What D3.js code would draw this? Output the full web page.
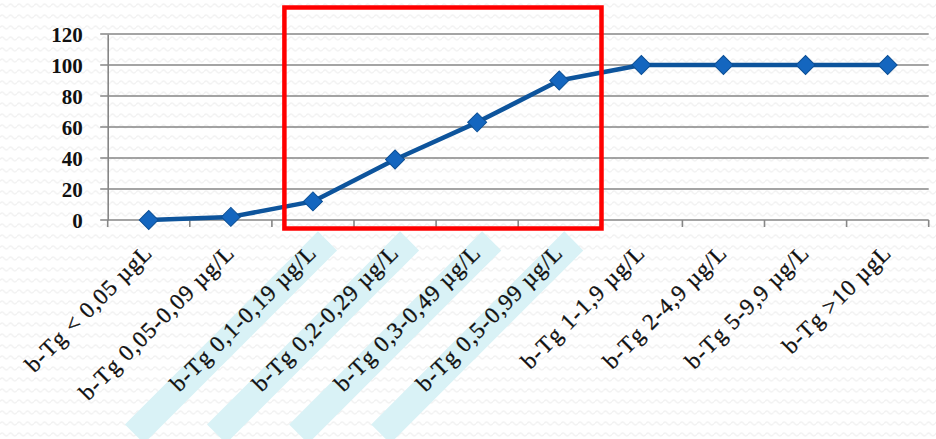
<!DOCTYPE html>
<html>
<head>
<meta charset="utf-8">
<script src="https://cdn.jsdelivr.net/npm/d3@7"></script>
<style>
  html, body { margin: 0; padding: 0; background: #ffffff; }
  svg { display: block; }
</style>
</head>
<body>
<div id="chart"></div>
<script>
// b-Tg concentration classes and the cumulative percentage reached in each
const categories = [
  "b-Tg < 0,05 µgL",
  "b-Tg 0,05-0,09 µg/L",
  "b-Tg 0,1-0,19 µg/L",
  "b-Tg 0,2-0,29 µg/L",
  "b-Tg 0,3-0,49 µg/L",
  "b-Tg 0,5-0,99 µg/L",
  "b-Tg 1-1,9 µg/L",
  "b-Tg 2-4,9 µg/L",
  "b-Tg 5-9,9 µg/L",
  "b-Tg >10 µgL"
];
const values = [0, 2, 12, 39, 63, 90, 100, 100, 100, 100];
const yTicks = [0, 20, 40, 60, 80, 100, 120];
// classes emphasised with a shaded band behind their label and the red frame
const highlighted = [
  "b-Tg 0,1-0,19 µg/L",
  "b-Tg 0,2-0,29 µg/L",
  "b-Tg 0,3-0,49 µg/L",
  "b-Tg 0,5-0,99 µg/L"
];

const W = 936, H = 439;
const plot = { left: 107.7, right: 928.7, top: 34, bottom: 220 };

const svg = d3.select("#chart").append("svg")
  .attr("width", W).attr("height", H)
  .attr("viewBox", `0 0 ${W} ${H}`);

// faint wavy paper texture
const defs = svg.append("defs");
const pat = defs.append("pattern")
  .attr("id", "waves")
  .attr("patternUnits", "userSpaceOnUse")
  .attr("width", 8.5).attr("height", 11);
pat.append("rect").attr("width", 8.5).attr("height", 11).attr("fill", "#ffffff");
pat.append("path")
  .attr("d", "M0,5.5 Q2.125,2.5 4.25,5.5 T8.5,5.5")
  .attr("fill", "none")
  .attr("stroke", "#f2f2f2")
  .attr("stroke-width", 1.4);
svg.append("rect").attr("width", W).attr("height", H).attr("fill", "url(#waves)");

const x = d3.scaleBand().domain(categories).range([plot.left, plot.right]).padding(0);
const y = d3.scaleLinear().domain([0, 120]).range([plot.bottom, plot.top]);
const bw = x.bandwidth();

// vertical axis line and horizontal gridlines with left tick stubs
const gridColor = "#868686";
const yAxis = d3.axisLeft(y).tickValues(yTicks).tickSize(0).tickFormat("");
svg.append("g").attr("transform", `translate(${plot.left},0)`).call(yAxis)
  .call(g => g.select(".domain").attr("stroke", gridColor).attr("stroke-width", 1.6));
svg.append("g").selectAll("line.grid").data(yTicks).join("line")
  .attr("class", "grid")
  .attr("x1", plot.left - 7.5).attr("x2", plot.right)
  .attr("y1", d => y(d)).attr("y2", d => y(d))
  .attr("stroke", gridColor).attr("stroke-width", 1.6);

// y tick labels
svg.append("g").selectAll("text.ylab").data(yTicks).join("text")
  .attr("class", "ylab")
  .attr("x", plot.left - 25)
  .attr("y", d => y(d) + 7.5)
  .attr("text-anchor", "end")
  .attr("font-family", "'Liberation Serif', serif")
  .attr("font-weight", "bold")
  .attr("font-size", 21)
  .attr("fill", "#111")
  .text(d => d);

// category boundary ticks below the axis
const bounds = categories.map(c => x(c)).concat([plot.right]);
svg.append("g").selectAll("line.xtick").data(bounds).join("line")
  .attr("class", "xtick")
  .attr("x1", d => d).attr("x2", d => d)
  .attr("y1", plot.bottom).attr("y2", plot.bottom + 7)
  .attr("stroke", gridColor).attr("stroke-width", 1.6);

// rotated category labels, with a shaded band behind emphasised ones
const labelG = svg.append("g").selectAll("g.xlab").data(categories).join("g")
  .attr("class", "xlab")
  .attr("transform", d => `translate(${x(d) + bw / 2 + 5},${y(0) + 34}) rotate(-45)`);
labelG.filter(d => highlighted.includes(d)).append("rect")
  .attr("x", -257).attr("y", -16)
  .attr("width", 273).attr("height", 27)
  .attr("fill", "#d9f2f6");
labelG.append("text")
  .attr("text-anchor", "end")
  .attr("font-family", "'Liberation Serif', serif")
  .attr("font-size", 23)
  .attr("letter-spacing", "1px")
  .attr("fill", "#111")
  .attr("stroke", "#111")
  .attr("stroke-width", 0.3)
  .text(d => d);

// data line and diamond markers
const line = d3.line()
  .x((d, i) => x(categories[i]) + bw / 2)
  .y(d => y(d));
svg.append("path")
  .datum(values)
  .attr("d", line)
  .attr("fill", "none")
  .attr("stroke", "#0d549c")
  .attr("stroke-width", 4.5)
  .attr("stroke-linejoin", "round");

svg.append("g").selectAll("path.pt").data(values).join("path")
  .attr("class", "pt")
  .attr("transform", (d, i) => `translate(${x(categories[i]) + bw / 2},${y(d)}) rotate(45)`)
  .attr("d", d3.symbol().type(d3.symbolSquare).size(180))
  .attr("fill", "#1466bf")
  .attr("stroke", "#0c4f95")
  .attr("stroke-width", 1);

// red frame around the emphasised range
const first = highlighted[0], last = highlighted[highlighted.length - 1];
svg.append("rect")
  .attr("x", x(first) + 12.5)
  .attr("y", y(120) - 26.5)
  .attr("width", (x(last) + bw + 1.2) - (x(first) + 12.5))
  .attr("height", (y(0) + 8.5) - (y(120) - 26.5))
  .attr("fill", "none")
  .attr("stroke", "#ff0000")
  .attr("stroke-width", 4.5);
</script>
</body>
</html>
